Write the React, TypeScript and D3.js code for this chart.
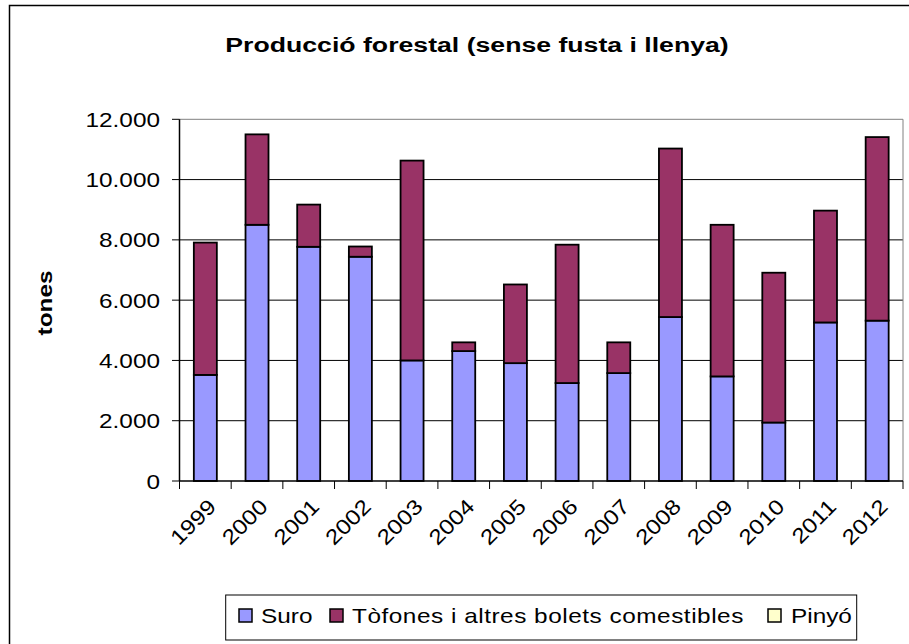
import * as d3 from 'd3'

const YEARS = ['1999', '2000', '2001', '2002', '2003', '2004', '2005', '2006', '2007', '2008', '2009', '2010', '2011', '2012']
const SURO = [3520, 8500, 7770, 7440, 4000, 4310, 3910, 3250, 3580, 5440, 3470, 1940, 5260, 5320]
const TOFONES = [4390, 3000, 1400, 340, 6630, 290, 2610, 4590, 1020, 5590, 5030, 4970, 3710, 6090]
const PINYO = [0, 0, 0, 0, 0, 0, 0, 0, 0, 0, 0, 0, 0, 0]
const Y_TICKS = [0, 2000, 4000, 6000, 8000, 10000, 12000]

const SERIES = [
  { key: 'suro', label: 'Suro', color: '#9999FF', values: SURO },
  { key: 'tofones', label: 'Tòfones i altres bolets comestibles', color: '#993366', values: TOFONES },
  { key: 'pinyo', label: 'Pinyó', color: '#FFFFCC', values: PINYO },
]

const W = 909
const H = 644
const left = 179.5
const right = 903
const top = 119.3
const bottom = 481
const FONT = '"Liberation Sans", Arial, sans-serif'
const SX = 1.16

const fmt = d3.formatLocale({ decimal: ',', thousands: '.', grouping: [3], currency: ['', ''] }).format(',')

export default function App() {
  const x = d3.scaleBand(YEARS, [left, right]).paddingInner(0.555).paddingOuter(0.2775)
  const xCat = d3.scaleBand(YEARS, [left, right])
  const y = d3.scaleLinear([0, 12000], [bottom, top])

  const rows = YEARS.map((yr, i) => {
    const r: Record<string, any> = { year: yr }
    SERIES.forEach((s) => (r[s.key] = s.values[i]))
    return r
  })
  const stacked = d3.stack().keys(SERIES.map((s) => s.key))(rows as any)

  // legend layout (swatch x, text x, extra letter spacing)
  const legendItems = [
    { swatch: 239, text: 261, ls: 0 },
    { swatch: 330, text: 352, ls: 0.45 },
    { swatch: 768, text: 791, ls: 0 },
  ]

  return (
    <div style={{ position: 'absolute', left: 0, top: 0 }}>
      <svg width={W} height={H} style={{ display: 'block', background: '#fff' }}>
        <rect x={9.5} y={5.5} width={1000} height={700} fill="#fff" stroke="#000" strokeWidth={1.5} />

        <text
          transform={`translate(477,52) scale(1.3,1)`}
          textAnchor="middle"
          fontFamily={FONT}
          fontWeight="bold"
          fontSize={20.5}
          fill="#000"
        >
          Producció forestal (sense fusta i llenya)
        </text>

        {/* gridlines */}
        {Y_TICKS.filter((t) => t > 0).map((t) => (
          <line key={t} x1={left} x2={right} y1={y(t)} y2={y(t)} stroke={t === 12000 ? '#808080' : '#000'} strokeWidth={1} />
        ))}
        <line x1={right} x2={right} y1={top} y2={bottom} stroke="#808080" strokeWidth={1} />

        {/* bars */}
        {stacked.map((layer, si) => (
          <g key={layer.key}>
            {layer.map((d, i) =>
              d[1] - d[0] > 0 ? (
                <rect
                  key={i}
                  x={x(YEARS[i])}
                  y={y(d[1])}
                  width={x.bandwidth()}
                  height={y(d[0]) - y(d[1])}
                  fill={SERIES[si].color}
                  stroke="#000"
                  strokeWidth={1.8}
                />
              ) : null
            )}
          </g>
        ))}

        {/* axes */}
        <line x1={left} x2={left} y1={top} y2={bottom} stroke="#000" strokeWidth={1.5} />
        <line x1={left} x2={right} y1={bottom} y2={bottom} stroke="#000" strokeWidth={1.5} />
        {Y_TICKS.map((t) => (
          <g key={t}>
            <line x1={172} x2={left} y1={y(t)} y2={y(t)} stroke="#000" strokeWidth={1} />
            <text
              transform={`translate(160,${y(t) + 7.5}) scale(${SX},1)`}
              textAnchor="end"
              fontFamily={FONT}
              fontSize={21}
              fill="#000"
            >
              {fmt(t)}
            </text>
          </g>
        ))}
        {YEARS.concat(['end']).map((yr, i) => {
          const xx = left + i * xCat.step()
          return <line key={yr} x1={xx} x2={xx} y1={bottom} y2={bottom + 8} stroke="#000" strokeWidth={1} />
        })}
        {YEARS.map((yr) => {
          const cx = (xCat(yr) ?? 0) + xCat.bandwidth() / 2
          return (
            <text
              key={yr}
              transform={`translate(${cx + 12},${bottom + 27}) rotate(-45) scale(${SX},1)`}
              textAnchor="end"
              fontFamily={FONT}
              fontSize={21}
              fill="#000"
            >
              {yr}
            </text>
          )
        })}

        <text
          transform={`translate(52,303) rotate(-90) scale(${SX},1)`}
          textAnchor="middle"
          fontFamily={FONT}
          fontWeight="bold"
          fontSize={21}
          fill="#000"
        >
          tones
        </text>

        {/* legend */}
        <rect x={225.7} y={595} width={631} height={45} fill="#fff" stroke="#000" strokeWidth={1} />
        {SERIES.map((s, i) => (
          <g key={s.key}>
            <rect x={legendItems[i].swatch} y={609} width={13} height={13} fill={s.color} stroke="#000" strokeWidth={1.5} />
            <text
              transform={`translate(${legendItems[i].text},${623}) scale(${SX},1)`}
              fontFamily={FONT}
              fontSize={21}
              letterSpacing={legendItems[i].ls}
              fill="#000"
            >
              {s.label}
            </text>
          </g>
        ))}
      </svg>
    </div>
  )
}
